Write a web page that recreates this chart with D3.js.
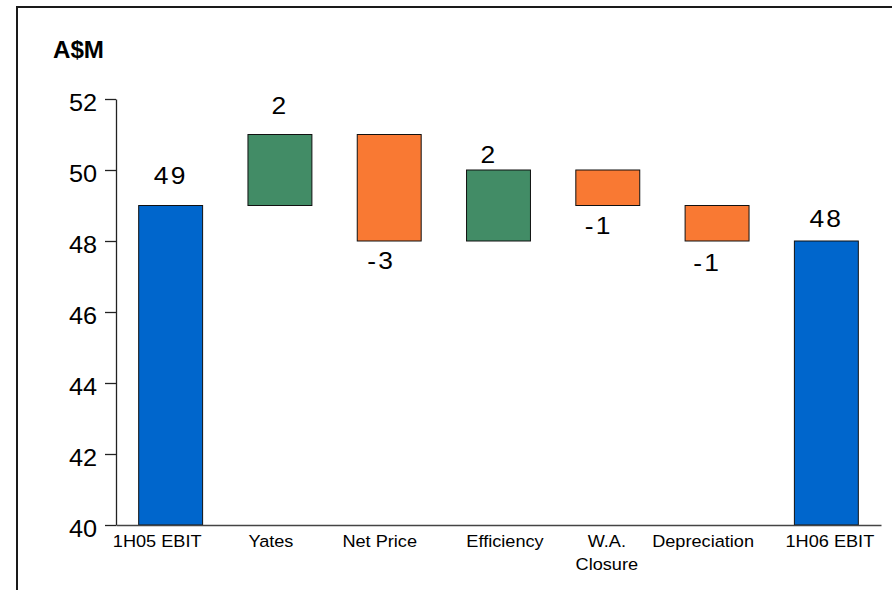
<!DOCTYPE html>
<html>
<head>
<meta charset="utf-8">
<script src="https://cdn.jsdelivr.net/npm/d3@7"></script>
<style>
  html, body { margin: 0; padding: 0; background: #fff; }
  svg { display: block; font-family: "Liberation Sans", Arial, sans-serif; }
</style>
</head>
<body>
<svg id="chart" width="892" height="590"></svg>
<script>
// ---- data ----
const categories = ["1H05 EBIT", "Yates", "Net Price", "Efficiency", "W.A.\nClosure", "Depreciation", "1H06 EBIT"];
const values = [49, 2, -3, 2, -1, -1, 48];
const kinds = ["total", "delta", "delta", "delta", "delta", "delta", "total"];
const yTicks = [40, 42, 44, 46, 48, 50, 52];
const unitLabel = "A$M";

// ---- layout (not data) ----
const valueNudge = [[0, -6.5], [0, -5.5], [-8, 1], [-9.5, 8], [-9, 1], [-10, 3], [0, 1]];
const catNudge = [-13.5, -9, -9.5, 6.5, -1, -14, 3.5];
const colors = { total: "#0066cc", up: "#428c66", down: "#f97933" };
const SX = 1.1;

const svg = d3.select("#chart");
const margin = { left: 116, right: 11, top: 99, bottom: 65 };
const W = 892, H = 590;

// frame
svg.append("path").attr("d", `M17,590 V7 H892`).attr("fill", "none")
  .attr("stroke", "#1a1a1a").attr("stroke-width", 2);

// compute waterfall
let run = 0;
const bars = values.map((v, i) => {
  let lo, hi;
  if (kinds[i] === "total") { lo = 40; hi = v; run = v; }
  else { const s = run; run = run + v; lo = Math.min(s, run); hi = Math.max(s, run); }
  return { cat: categories[i], v, kind: kinds[i], lo, hi, i };
});

const x = d3.scaleBand().domain(categories)
  .range([margin.left, W - margin.right]).paddingInner(0.415).paddingOuter(0.2075);
const y = d3.scaleLinear().domain([40, 52]).range([H - margin.bottom, margin.top]);

// bars
svg.append("g").selectAll("rect").data(bars).join("rect")
  .attr("x", d => x(d.cat))
  .attr("width", x.bandwidth())
  .attr("y", d => y(d.hi))
  .attr("height", d => y(d.lo) - y(d.hi))
  .attr("fill", d => d.kind === "total" ? colors.total : (d.v >= 0 ? colors.up : colors.down))
  .attr("stroke", "#111").attr("stroke-width", 1);

// y axis
const yAxis = d3.axisLeft(y).tickValues(yTicks).tickSize(11).tickSizeOuter(0).tickPadding(8);
const gy = svg.append("g").attr("transform", `translate(${margin.left},0)`).call(yAxis);
gy.select(".domain").attr("stroke", "#222").attr("stroke-width", 1.3);
gy.selectAll(".tick line").attr("stroke", "#222").attr("stroke-width", 1.3);
gy.selectAll(".tick text")
  .attr("font-size", 23).attr("fill", "#000")
  .attr("font-family", "'Liberation Sans', Arial, sans-serif")
  .attr("dy", null).attr("y", 11)
  .attr("x", -19 / SX)
  .attr("transform", `scale(${SX},1)`);

// x axis line
const gx = svg.append("g").attr("transform", `translate(0,${y(40)})`)
  .call(d3.axisBottom(x).tickSize(0).tickSizeOuter(0).tickFormat(""));
gx.select(".domain").attr("stroke", "#444").attr("stroke-width", 1.5);

// category labels
bars.forEach(d => {
  const lines = d.cat.split("\n");
  const cx = x(d.cat) + x.bandwidth() / 2 + catNudge[d.i];
  lines.forEach((ln, k) => {
    svg.append("text")
      .attr("transform", `translate(${cx},${y(40) + 22 + k * 23}) scale(${SX},1)`)
      .attr("text-anchor", "middle").attr("font-size", 16.5).attr("fill", "#000")
      .text(ln);
  });
});

// value labels
bars.forEach(d => {
  const cx = x(d.cat) + x.bandwidth() / 2 + valueNudge[d.i][0];
  const above = d.kind === "total" || d.v >= 0;
  const by = (above ? y(d.hi) - 15 : y(d.lo) + 27) + valueNudge[d.i][1];
  svg.append("text")
    .attr("transform", `translate(${cx},${by}) scale(${SX},1)`)
    .attr("text-anchor", "middle").attr("font-size", 24).attr("fill", "#000")
    .attr("letter-spacing", 2)
    .text(d.v);
});

// unit label
svg.append("text")
  .attr("transform", `translate(53,58) scale(1.05,1)`)
  .attr("font-size", 23).attr("font-weight", "bold").attr("fill", "#000")
  .text(unitLabel);
</script>
</body>
</html>
